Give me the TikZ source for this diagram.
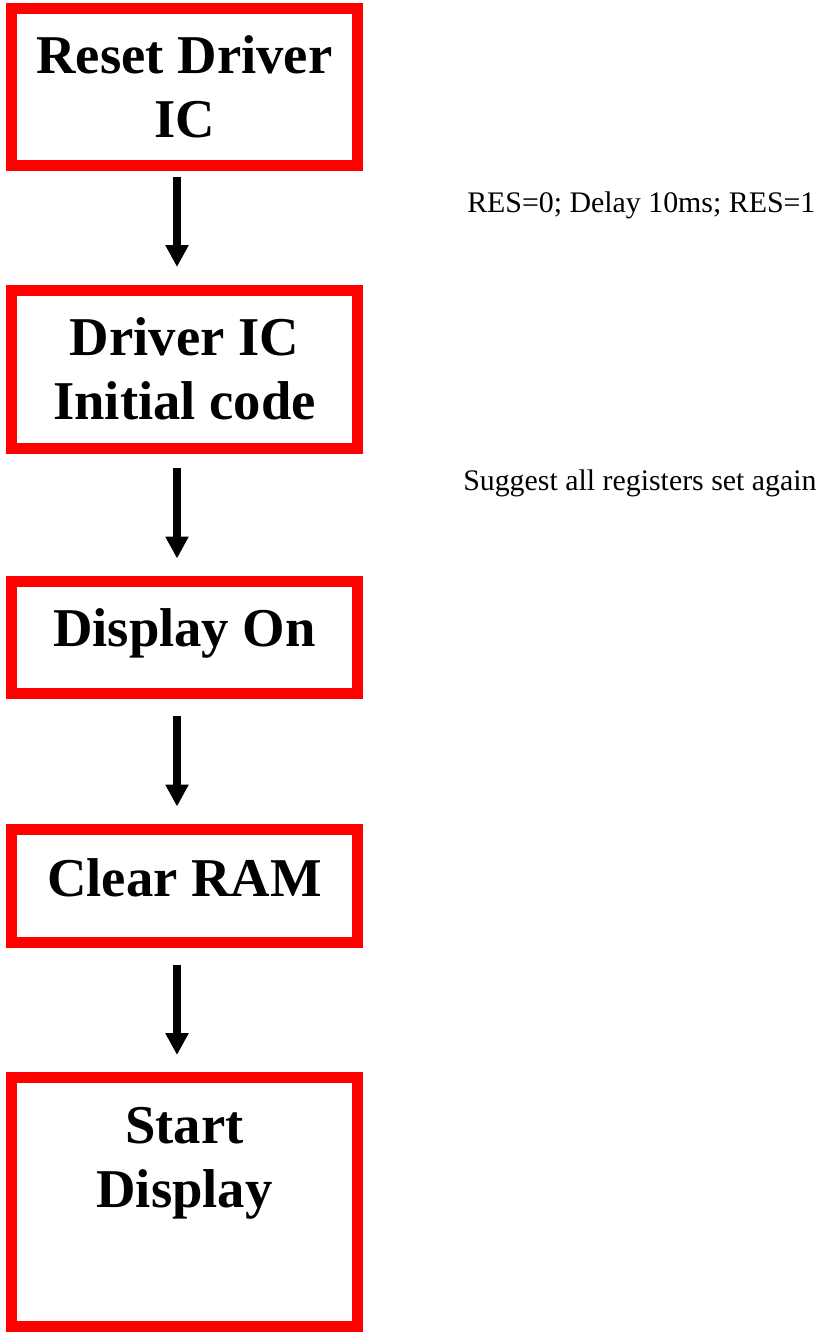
\documentclass[tikz,border=0pt]{standalone}
\usepackage{fontspec}
\setmainfont{Liberation Serif}
\usetikzlibrary{arrows.meta}
\begin{document}
\begin{tikzpicture}[x=0.75pt,y=-0.75pt,
  box/.style={draw=red, line width=8.25pt, fill=white, rectangle, minimum width=346.5*0.75pt, inner sep=0pt},
  boxtext/.style={font=\fontsize{41pt}{48pt}\selectfont\bfseries, align=center, anchor=base, inner sep=0pt},
  note/.style={font=\fontsize{22.4pt}{27pt}\selectfont, anchor=base west, inner sep=0pt},
  arr/.style={line width=6pt, -{Triangle[width=16.5pt,length=16.5pt]}}]
\useasboundingbox (0,0) rectangle (822,1332);
\node[box, minimum height=157.5*0.75pt] (b1) at (184.25,86.75) {};
\node[box, minimum height=158*0.75pt] (b2) at (184.25,369.5) {};
\node[box, minimum height=112.5*0.75pt] (b3) at (184.25,637.25) {};
\node[box, minimum height=113*0.75pt] (b4) at (184.25,885.5) {};
\node[box, minimum height=248.5*0.75pt] (b5) at (184.25,1201.75) {};
\node[boxtext] (t1) at (184.5,137) {Reset Driver\\IC};
\node[boxtext] (t2) at (184.5,419) {Driver IC\\Initial code};
\node[boxtext] (t3) at (184.5,646) {Display On};
\node[boxtext] (t4) at (184.5,896) {Clear RAM};
\node[boxtext] (t5) at (184.5,1207) {Start\\Display};
\node[note] (n1) at (467,212) {RES=0; Delay 10ms; RES=1};
\node[note] (n2) at (463,490) {Suggest all registers set again};
\coordinate (ax) at (177,0);
\draw[arr, shorten <=4.5pt, shorten >=13.5pt] (b1.south -| ax) -- (b2.north -| ax);
\draw[arr, shorten <=10.5pt, shorten >=12.75pt] (b2.south -| ax) -- (b3.north -| ax);
\draw[arr, shorten <=12.75pt, shorten >=12.75pt] (b3.south -| ax) -- (b4.north -| ax);
\draw[arr, shorten <=12.75pt, shorten >=12.75pt] (b4.south -| ax) -- (b5.north -| ax);
\end{tikzpicture}
\end{document}
